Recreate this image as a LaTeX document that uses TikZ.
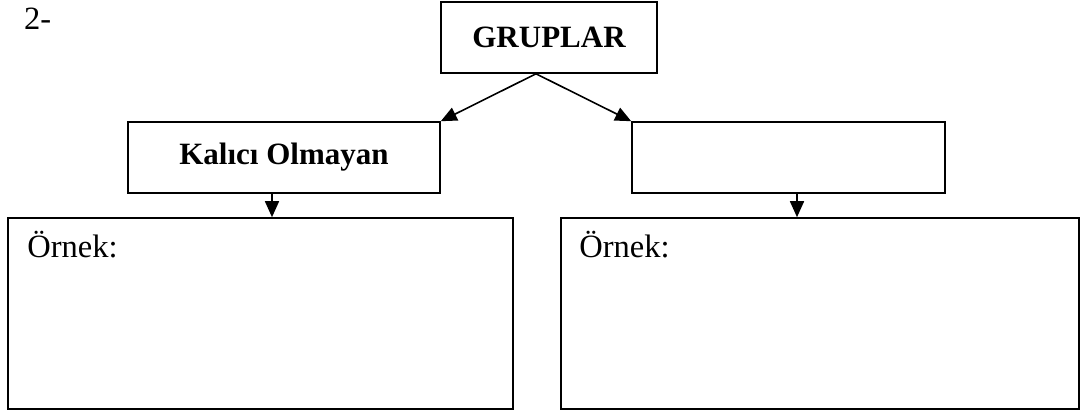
\documentclass[tikz,border=0pt]{standalone}
\usepackage{fontspec}
\setmainfont{Liberation Serif}
\usepackage{tikz}
\usetikzlibrary{positioning, calc, arrows.meta}

\tikzset{
  kutu/.style={draw, line width=1.6pt, inner sep=0pt, font=\fontsize{31}{36}\selectfont\bfseries},
  ok/.style={line width=1.6pt, -{Triangle[length=16pt,width=14pt]}},
  yazi/.style={inner sep=0pt, font=\fontsize{32.5}{38}\selectfont}
}

\begin{document}
\begin{tikzpicture}[x=1pt, y=-1pt]
		\useasboundingbox (0,0) rectangle (1083,414);
		\pgfmathsetmacro{\kutuh}{71}
		\pgfmathsetmacro{\altkutuh}{191}
		
		\node[yazi, anchor=base west] (numara) at (24,30) {2-};
		
		\node[kutu, minimum width=216pt, minimum height=\kutuh pt] (gruplar) at (549,37.5) {GRUPLAR};
		\node[kutu, minimum width=312pt, minimum height=\kutuh pt] (kalici) at (284,157.5) {Kal\i c\i\ Olmayan};
		\node[kutu, minimum width=313pt, minimum height=\kutuh pt] (diger) at (788.5,157.5) {};
		
		\node[kutu, minimum width=505pt, minimum height=\altkutuh pt] (ornekA) at (260.5,313.5) {};
		\node[kutu, minimum width=518pt, minimum height=\altkutuh pt] (ornekB) at (820,313.5) {};
		\node[yazi, anchor=base west] (ornekAyazi) at ($(ornekA.north west)+(20,40)$) {Örnek:};
		\node[yazi, anchor=base west] (ornekByazi) at ($(ornekB.north west)+(19,40)$) {Örnek:};
		
		\coordinate (tepe) at (gruplar.south -| 536,0);
		\draw[ok] (tepe) -- (kalici.north east);
		\draw[ok] (tepe) -- (diger.north west);
		
		\draw[ok] ([xshift=-12pt]kalici.south) -- ([xshift=-12pt]kalici.south |- ornekA.north);
		\draw[ok] ([xshift=8.5pt]diger.south) -- ([xshift=8.5pt]diger.south |- ornekB.north);
\end{tikzpicture}
\end{document}
